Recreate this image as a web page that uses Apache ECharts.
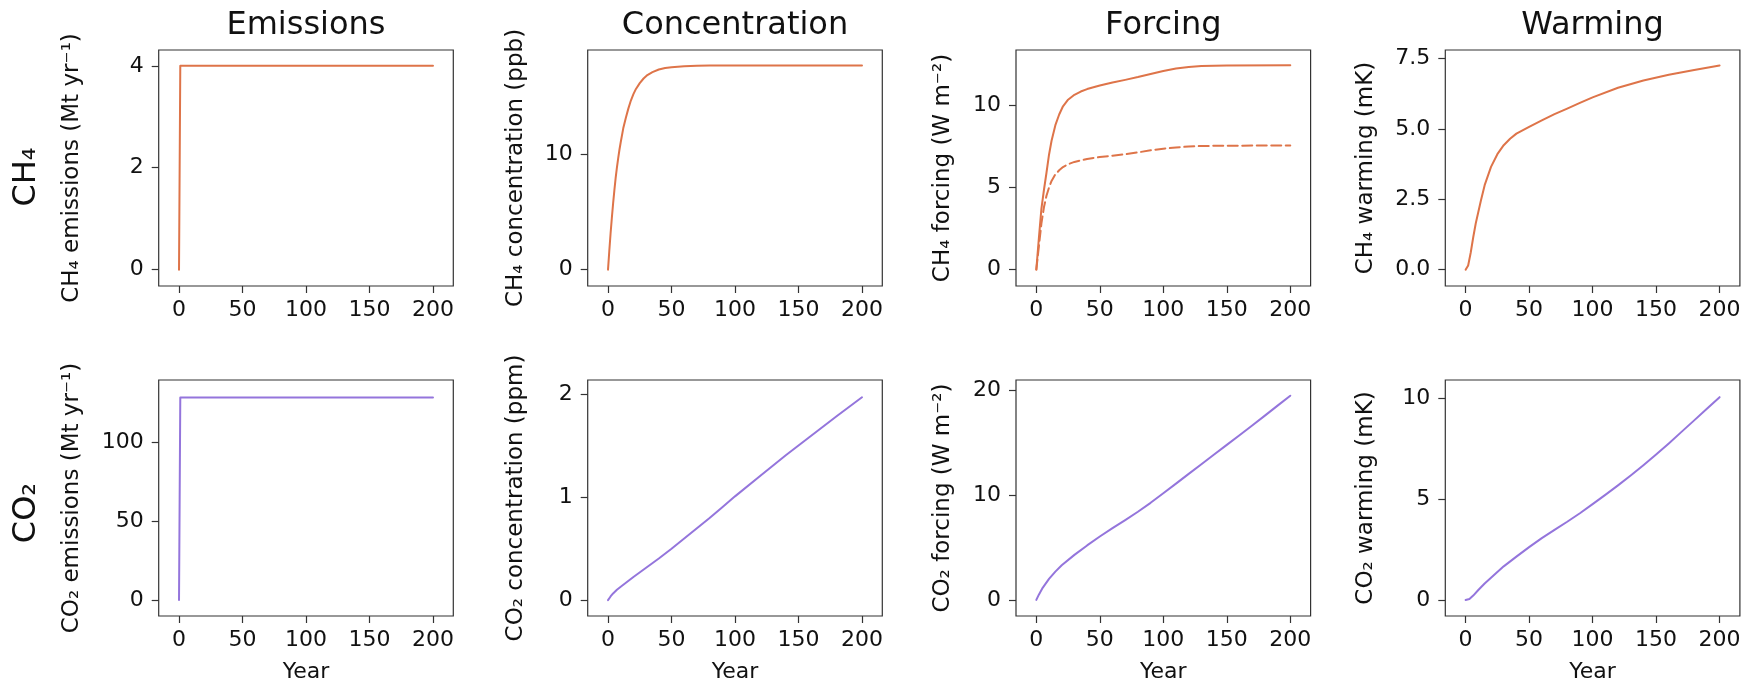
<!DOCTYPE html>
<html>
<head>
<meta charset="utf-8">
<script src="https://cdn.jsdelivr.net/npm/echarts@6/dist/echarts.min.js"></script>
<style>
  html, body { margin: 0; padding: 0; background: #fff; }
  #chart { width: 1758px; height: 689px; }
</style>
</head>
<body>
<div id="chart"></div>
<script>
// ---------- data ----------
const columnTitles = ['Emissions', 'Concentration', 'Forcing', 'Warming'];
const rowLabels = ['CH₄', 'CO₂'];
const yLabels = [
  ['CH₄ emissions (Mt yr⁻¹)', 'CH₄ concentration (ppb)', 'CH₄ forcing (W m⁻²)', 'CH₄ warming (mK)'],
  ['CO₂ emissions (Mt yr⁻¹)', 'CO₂ concentration (ppm)', 'CO₂ forcing (W m⁻²)', 'CO₂ warming (mK)']
];
const xLabel = 'Year';
const xTicks = [0, 50, 100, 150, 200];

const ch4EmisYears = [0, 1, 200];
const ch4EmisValues = [0, 4, 4];
const ch4EmisTicks = [0, 2, 4];

const ch4ConcYears = [0, 1, 2, 3, 4, 5, 6, 7, 8, 9, 10, 12, 14, 16, 18, 20, 22, 25, 28, 31, 35, 40, 45, 50, 60, 70, 80, 100, 150, 200];
const ch4ConcValues = [0, 1.6, 3.1, 4.45, 5.7, 6.85, 7.9, 8.8, 9.6, 10.35, 11.0, 12.2, 13.1, 13.9, 14.6, 15.15, 15.6, 16.1, 16.5, 16.8, 17.05, 17.28, 17.4, 17.48, 17.56, 17.6, 17.62, 17.63, 17.63, 17.63];
const ch4ConcTicks = [0, 10];

const ch4ForcYears = [0, 2, 4, 6, 8, 10, 12, 15, 18, 21, 25, 30, 35, 40, 50, 60, 70, 80, 90, 100, 110, 120, 130, 150, 200];
const ch4ForcValues = [0, 1.9, 3.7, 4.85, 5.9, 7.0, 7.85, 8.8, 9.45, 9.95, 10.35, 10.65, 10.85, 11.0, 11.22, 11.4, 11.56, 11.73, 11.92, 12.1, 12.25, 12.35, 12.4, 12.43, 12.45];
const ch4ForcDashValues = [0, 1.4, 2.8, 3.8, 4.5, 5.0, 5.4, 5.8, 6.05, 6.25, 6.42, 6.56, 6.66, 6.74, 6.86, 6.94, 7.03, 7.14, 7.27, 7.37, 7.44, 7.5, 7.53, 7.55, 7.56];
const ch4ForcTicks = [0, 5, 10];

const ch4WarmYears = [0, 1, 2, 4, 6, 8, 10, 12, 15, 20, 25, 30, 35, 40, 50, 60, 70, 80, 90, 100, 120, 140, 160, 180, 200];
const ch4WarmValues = [0, 0.04, 0.15, 0.6, 1.15, 1.65, 2.05, 2.45, 3.0, 3.65, 4.1, 4.42, 4.65, 4.83, 5.07, 5.3, 5.52, 5.72, 5.92, 6.12, 6.46, 6.72, 6.92, 7.09, 7.25];
const ch4WarmTicks = [0, 2.5, 5, 7.5];

const co2EmisYears = [0, 1, 200];
const co2EmisValues = [0, 128, 128];
const co2EmisTicks = [0, 50, 100];

const co2ConcYears = [0, 2, 4, 7, 10, 20, 30, 40, 50, 60, 70, 80, 90, 100, 120, 140, 160, 180, 200];
const co2ConcValues = [0, 0.035, 0.065, 0.1, 0.13, 0.225, 0.315, 0.405, 0.5, 0.6, 0.7, 0.8, 0.905, 1.01, 1.21, 1.41, 1.6, 1.79, 1.975];
const co2ConcTicks = [0, 1, 2];

const co2ForcYears = [0, 2, 5, 10, 15, 20, 30, 40, 50, 60, 70, 80, 90, 100, 110, 120, 130, 140, 150, 160, 170, 180, 190, 200];
const co2ForcValues = [0, 0.5, 1.15, 2.0, 2.7, 3.3, 4.3, 5.2, 6.05, 6.85, 7.62, 8.42, 9.27, 10.18, 11.1, 12.03, 12.95, 13.88, 14.8, 15.72, 16.65, 17.6, 18.55, 19.5];
const co2ForcTicks = [0, 10, 20];

const co2WarmYears = [0, 3, 6, 10, 15, 20, 30, 40, 50, 60, 70, 80, 90, 100, 110, 120, 130, 140, 150, 160, 170, 180, 190, 200];
const co2WarmValues = [0, 0.05, 0.22, 0.5, 0.82, 1.1, 1.67, 2.15, 2.62, 3.07, 3.48, 3.88, 4.3, 4.75, 5.21, 5.68, 6.17, 6.68, 7.21, 7.76, 8.33, 8.9, 9.48, 10.05];
const co2WarmTicks = [0, 5, 10];

// ---------- layout / style ----------
const CH4_COLOR = '#de7449';
const CO2_COLOR = '#9475dc';
const FONT = 'DejaVu Sans';
const TEXT = '#111';
const AXIS = '#333';

const colLefts = [158.7, 587.7, 1016, 1445.3];
const plotW = 294.6;
const rowTops = [50, 380];
const plotH = 236;
const yLabelX = [72, 516, 943, 1366];

const xRange = [-16, 216];

const panels = [
  { row: 0, col: 0, yMin: -0.32, yMax: 4.31, ticks: ch4EmisTicks, fmt: v => String(v),
    lines: [{ x: ch4EmisYears, y: ch4EmisValues, color: CH4_COLOR }] },
  { row: 0, col: 1, yMin: -1.41, yMax: 18.96, ticks: ch4ConcTicks, fmt: v => String(v),
    lines: [{ x: ch4ConcYears, y: ch4ConcValues, color: CH4_COLOR }] },
  { row: 0, col: 2, yMin: -1.0, yMax: 13.38, ticks: ch4ForcTicks, fmt: v => String(v),
    lines: [{ x: ch4ForcYears, y: ch4ForcValues, color: CH4_COLOR },
            { x: ch4ForcYears, y: ch4ForcDashValues, color: CH4_COLOR, dashed: true }] },
  { row: 0, col: 3, yMin: -0.58, yMax: 7.80, ticks: ch4WarmTicks, fmt: v => v.toFixed(1),
    lines: [{ x: ch4WarmYears, y: ch4WarmValues, color: CH4_COLOR }] },
  { row: 1, col: 0, yMin: -10.1, yMax: 139.1, ticks: co2EmisTicks, fmt: v => String(v),
    lines: [{ x: co2EmisYears, y: co2EmisValues, color: CO2_COLOR }] },
  { row: 1, col: 1, yMin: -0.155, yMax: 2.143, ticks: co2ConcTicks, fmt: v => String(v),
    lines: [{ x: co2ConcYears, y: co2ConcValues, color: CO2_COLOR }] },
  { row: 1, col: 2, yMin: -1.54, yMax: 21.0, ticks: co2ForcTicks, fmt: v => String(v),
    lines: [{ x: co2ForcYears, y: co2ForcValues, color: CO2_COLOR }] },
  { row: 1, col: 3, yMin: -0.79, yMax: 10.9, ticks: co2WarmTicks, fmt: v => String(v),
    lines: [{ x: co2WarmYears, y: co2WarmValues, color: CO2_COLOR }] }
];

const grid = [], xAxis = [], yAxis = [], series = [], graphic = [];

panels.forEach((p, i) => {
  grid.push({
    left: colLefts[p.col], top: rowTops[p.row], width: plotW, height: plotH,
    show: true, borderColor: AXIS, borderWidth: 1.2, backgroundColor: 'transparent'
  });
  xAxis.push({
    type: 'value', gridIndex: i, min: xRange[0], max: xRange[1],
    axisLine: { show: false, onZero: false },
    axisTick: { show: true, length: 7, inside: false, customValues: xTicks, lineStyle: { color: AXIS, width: 1.2 } },
    axisLabel: { show: true, customValues: xTicks, margin: 13, fontSize: 22, fontFamily: FONT, color: TEXT },
    splitLine: { show: false },
    name: p.row === 1 ? xLabel : '',
    nameLocation: 'middle', nameGap: 45,
    nameTextStyle: { fontSize: 22, fontFamily: FONT, color: TEXT }
  });
  yAxis.push({
    type: 'value', gridIndex: i, min: p.yMin, max: p.yMax,
    axisLine: { show: false, onZero: false },
    axisTick: { show: true, length: 7, inside: false, customValues: p.ticks, lineStyle: { color: AXIS, width: 1.2 } },
    axisLabel: { show: true, customValues: p.ticks, formatter: p.fmt, margin: 15, fontSize: 22, fontFamily: FONT, color: TEXT },
    splitLine: { show: false }
  });
  p.lines.forEach(l => {
    series.push({
      type: 'line', xAxisIndex: i, yAxisIndex: i,
      data: l.x.map((x, k) => [x, l.y[k]]),
      showSymbol: false, symbol: 'none', smooth: false,
      lineStyle: { color: l.color, width: 2, type: l.dashed ? [10, 4.5] : 'solid', join: 'round', cap: 'round' },
      animation: false, silent: true
    });
  });
  graphic.push({
    type: 'text', x: yLabelX[p.col], y: rowTops[p.row] + plotH / 2, rotation: Math.PI / 2,
    style: { text: yLabels[p.row][p.col], fontSize: 23, fontFamily: FONT, fill: TEXT, align: 'center', verticalAlign: 'middle' }
  });
});

columnTitles.forEach((t, c) => {
  graphic.push({
    type: 'text', x: colLefts[c] + plotW / 2, y: 26,
    style: { text: t, fontSize: 32, fontFamily: FONT, fill: TEXT, align: 'center', verticalAlign: 'middle' }
  });
});
const rowLabelY = [177, 513];
rowLabels.forEach((t, r) => {
  graphic.push({
    type: 'text', x: 27, y: rowLabelY[r], rotation: Math.PI / 2,
    style: { text: t, fontSize: 32, fontFamily: FONT, fill: TEXT, align: 'center', verticalAlign: 'middle' }
  });
});

const chart = echarts.init(document.getElementById('chart'), null, { renderer: 'canvas' });
chart.setOption({
  animation: false,
  backgroundColor: '#fff',
  grid, xAxis, yAxis, series, graphic
});
</script>
</body>
</html>
